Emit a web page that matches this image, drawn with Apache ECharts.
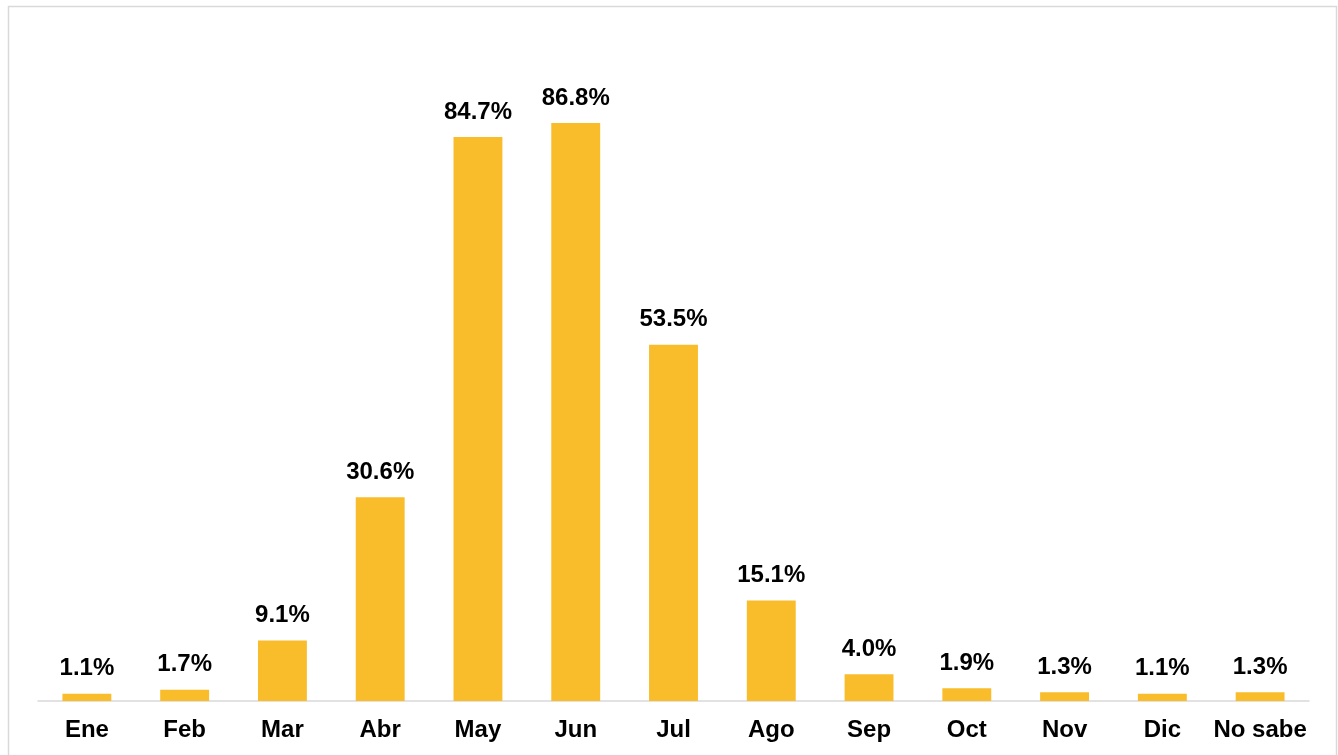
<!DOCTYPE html>
<html>
<head>
<meta charset="utf-8">
<script src="https://cdn.jsdelivr.net/npm/echarts@6/dist/echarts.min.js"></script>
<style>html,body{margin:0;padding:0;background:#fff;}#c{width:1338px;height:755px;}</style>
</head>
<body>
<div id="c"></div>
<script>
const categories = ['Ene','Feb','Mar','Abr','May','Jun','Jul','Ago','Sep','Oct','Nov','Dic','No sabe'];
const values = [1.1, 1.7, 9.1, 30.6, 84.7, 86.8, 53.5, 15.1, 4.0, 1.9, 1.3, 1.1, 1.3];

const chart = echarts.init(document.getElementById('c'));
chart.setOption({
  animation: false,
  backgroundColor: '#ffffff',
  graphic: [{
    type: 'rect',
    shape: { x: 8.5, y: 6.5, width: 1328, height: 800 },
    style: { fill: 'none', stroke: '#d9d9d9', lineWidth: 1.5 },
    silent: true
  }],
  grid: { left: 38, right: 29, top: 35, bottom: 54, containLabel: false },
  xAxis: {
    type: 'category',
    data: categories,
    axisTick: { show: false },
    axisLine: { lineStyle: { color: '#d9d9d9', width: 1.5 } },
    axisLabel: {
      color: '#000', fontFamily: 'Liberation Sans, Arial, sans-serif',
      fontWeight: 'bold', fontSize: 24, margin: 17, interval: 0
    }
  },
  yAxis: {
    type: 'value', min: 0, max: 100, show: false,
    splitLine: { show: false }
  },
  series: [{
    type: 'bar',
    data: values,
    barWidth: '50%',
    itemStyle: { color: '#F9BC2B' },
    label: {
      show: true, position: 'top', distance: 13,
      formatter: p => p.value.toFixed(1) + '%',
      color: '#000', fontFamily: 'Liberation Sans, Arial, sans-serif',
      fontWeight: 'bold', fontSize: 24
    }
  }]
});
</script>
</body>
</html>
